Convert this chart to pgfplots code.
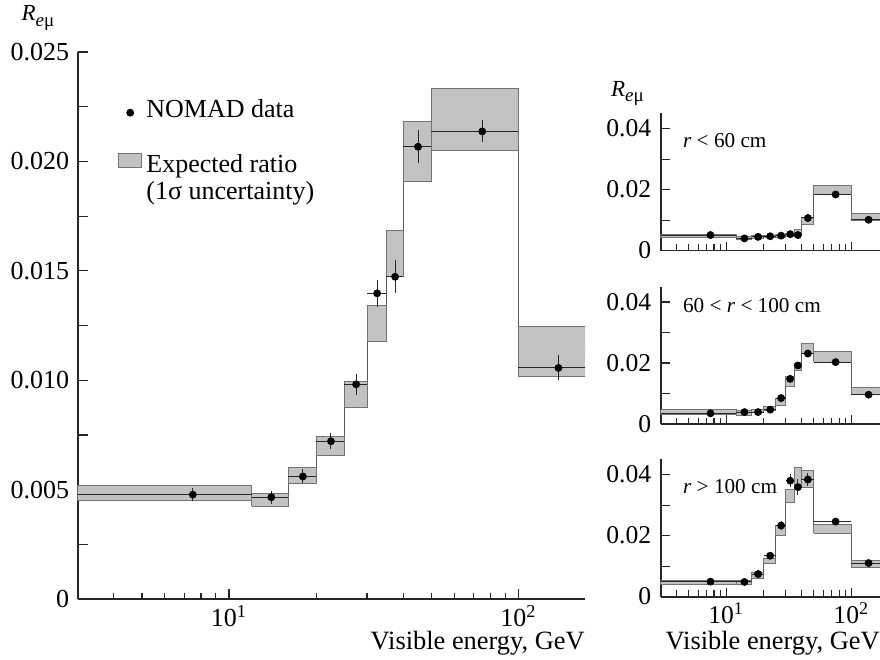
\documentclass[border=0pt]{standalone}
\usepackage{fontspec}
\setmainfont{Liberation Serif}
\usepackage{pgfplots}
\pgfplotsset{compat=1.18}

\definecolor{boxfill}{gray}{0.76}
\definecolor{boxedge}{gray}{0.45}
\definecolor{stepc}{gray}{0.35}

% one grey box of the expected ratio: xlo, xhi, ylo, yhi
\newcommand\bx[4]{\addplot[draw=boxedge, fill=boxfill, line width=0.5pt, mark=none, forget plot] coordinates {(#1,#3) (#2,#3) (#2,#4) (#1,#4) (#1,#3)};}
\newcommand\reml{{\fontsize{11.5}{13}\selectfont\textit{R}}\raisebox{-2.6pt}{\fontsize{9.5}{11}\selectfont\textit{e}μ}}

\pgfplotsset{every axis/.append style={xmode=log, xmin=3, xmax=170, scale only axis,
    axis x line=bottom, axis y line=left,
    axis line style={-, line width=0.9pt, black!85},
    tick align=inside, major tick length=5pt, minor tick length=3.2pt,
    tick style={line width=0.6pt, black!85},
    xtick={10,100}, minor xtick={4,5,6,7,8,9,20,30,40,50,60,70,80,90},
    scaled y ticks=false,
    xticklabel style={anchor=base, yshift=-13.5pt, inner sep=0pt}}}

\begin{document}
\begin{tikzpicture}
\useasboundingbox (-38.85pt,-30.5pt) rectangle (401.15pt,299.5pt);

% ---------------- main panel ----------------
\begin{axis}[at={(0pt,0pt)}, anchor=south west,
  width=253.7pt, height=273.5pt,
  ymin=0, ymax=0.025,
  ytick={0,0.0025,0.005,0.0075,0.01,0.0125,0.015,0.0175,0.02,0.0225,0.025},
  yticklabels={0,,0.005,,0.010,,0.015,,0.020,,0.025},
  xticklabels={10\textsuperscript{1},10\textsuperscript{2}},
  tick label style={font=\fontsize{13}{15}\selectfont},
  yticklabel style={xshift=-0.7pt},
  xlabel={Visible energy, GeV},
  xlabel style={at={(rel axis cs:1,0)}, anchor=base east, inner sep=0pt,
    yshift=-25.3pt, font=\fontsize{13.2}{15}\selectfont},
  ylabel={\reml},
  ylabel style={rotate=-90, at={(rel axis cs:0,1)}, anchor=base west, inner sep=0pt,
    xshift=-28.2pt, yshift=15.6pt},
  legend cell align=left,
  legend style={at={(rel axis cs:0,1)}, anchor=north west, xshift=20.15pt, yshift=-24.65pt,
    draw=none, fill=none, inner sep=0pt, font=\fontsize{13}{15}\selectfont,
    row sep=1.75pt, column sep=2.2pt,
    nodes={inner sep=0pt, text height=8pt, text depth=3pt}},
]
\addlegendimage{legend image code/.code={\path (0pt,-4.05pt) (11.3pt,1.75pt); \fill[black] (5.65pt,0pt) circle[radius=1.75pt];}}
\addlegendentry{NOMAD data}
\addlegendimage{empty legend}
\addlegendentry{}
\addlegendimage{legend image code/.code={\path (0pt,-2.2pt); \draw[draw=boxedge, fill=boxfill, line width=0.5pt] (0pt,0pt) rectangle (11.3pt,7.2pt);}}
\addlegendentry{Expected ratio}
\addlegendimage{empty legend}
\addlegendentry{\raisebox{-0.6pt}{(1σ uncertainty)}}

\addplot[stepc, line width=0.5pt, const plot, mark=none, forget plot] coordinates {
  (3,0.00485) (12,0.00454) (16,0.00566) (20,0.00700) (25,0.00936)
  (30,0.01259) (35,0.01578) (40,0.02045) (50,0.02193) (100,0.01132) (175,0.01132)};
\bx{3}{12}{0.00449}{0.00521}
\bx{12}{16}{0.00425}{0.00483}
\bx{16}{20}{0.00529}{0.00602}
\bx{20}{25}{0.00657}{0.00742}
\bx{25}{30}{0.00876}{0.00995}
\bx{30}{35}{0.01176}{0.01342}
\bx{35}{40}{0.01473}{0.01683}
\bx{40}{50}{0.01907}{0.02183}
\bx{50}{100}{0.02052}{0.02334}
\bx{100}{175}{0.01019}{0.01245}
\addplot[only marks, mark=*, mark size=1.75pt, black, forget plot,
  error bars/x dir=both, error bars/x explicit, error bars/y dir=both, error bars/y explicit,
  error bars/error mark=none, error bars/error bar style={line width=0.5pt, black!85}]
  table[x=x, y=y, x error minus=xm, x error plus=xp, y error=ey] {
x     y       xm   xp   ey
7.5   0.00477 4.5  4.5  0.00030
14    0.00465 2    2    0.00030
18    0.00560 2    2    0.00032
22.5  0.00721 2.5  2.5  0.00036
27.5  0.00981 2.5  2.5  0.00047
32.5  0.01397 2.5  2.5  0.00063
37.5  0.01473 2.5  2.5  0.00075
45    0.02067 5    5    0.00075
75    0.02137 25   25   0.00050
137.5 0.01056 37.5 37.5 0.00057
};
\end{axis}

% ---------------- r < 60 cm ----------------
\begin{axis}[at={(291.5pt,174.2pt)}, anchor=south west,
  width=109.7pt, height=68.6pt,
  ymin=0, ymax=0.045, major tick length=4.5pt,
  ytick={0,0.01,0.02,0.03,0.04}, yticklabels={0,,0.02,,0.04},
  xticklabels={,,},
  tick label style={font=\fontsize{12.8}{14}\selectfont},
  yticklabel style={xshift=-1.2pt},
  ylabel={\reml},
  ylabel style={rotate=-90, at={(rel axis cs:0,1)}, anchor=base west, inner sep=0pt,
    xshift=-25pt, yshift=8.3pt},
]
\addplot[stepc, line width=0.5pt, const plot, mark=none, forget plot] coordinates {
  (3,0.0047) (12,0.0041) (16,0.0044) (20,0.0046) (25,0.00485)
  (30,0.0051) (35,0.00585) (40,0.0097) (50,0.0198) (100,0.0111) (175,0.0111)};
\bx{3}{12}{0.0042}{0.0052}
\bx{12}{16}{0.0037}{0.0045}
\bx{16}{20}{0.0040}{0.0048}
\bx{20}{25}{0.0042}{0.0050}
\bx{25}{30}{0.0044}{0.0053}
\bx{30}{35}{0.0046}{0.0056}
\bx{35}{40}{0.0049}{0.0068}
\bx{40}{50}{0.0087}{0.0107}
\bx{50}{100}{0.0184}{0.0212}
\bx{100}{175}{0.0099}{0.0123}
\addplot[only marks, mark=*, mark size=1.75pt, black, forget plot,
  error bars/x dir=both, error bars/x explicit, error bars/y dir=both, error bars/y explicit,
  error bars/error mark=none, error bars/error bar style={line width=0.5pt, black!85}]
  table[x=x, y=y, x error minus=xm, x error plus=xp, y error=ey] {
x     y       xm   xp   ey
7.5   0.0051  4.5  4.5  0.0003
14    0.0040  2    2    0.0003
18    0.0045  2    2    0.0003
22.5  0.0047  2.5  2.5  0.0003
27.5  0.0049  2.5  2.5  0.0003
32.5  0.0054  2.5  2.5  0.0004
37.5  0.0051  2.5  2.5  0.0004
45    0.0107  5    5    0.0006
75    0.0184  25   25   0.0008
137.5 0.0101  37.5 37.5 0.0006
};
\node[anchor=base west, inner sep=0pt, font=\fontsize{10.6}{12}\selectfont] at (axis cs:4.5,0.0337) {\textit{r} < 60 cm};
\end{axis}

% ---------------- 60 < r < 100 cm ----------------
\begin{axis}[at={(291.5pt,87.5pt)}, anchor=south west,
  width=109.7pt, height=68.6pt,
  ymin=0, ymax=0.045, major tick length=4.5pt,
  ytick={0,0.01,0.02,0.03,0.04}, yticklabels={0,,0.02,,0.04},
  xticklabels={,,},
  tick label style={font=\fontsize{12.8}{14}\selectfont},
  yticklabel style={xshift=-1.2pt},
]
\addplot[stepc, line width=0.5pt, const plot, mark=none, forget plot] coordinates {
  (3,0.00385) (12,0.0036) (16,0.00425) (20,0.00495) (25,0.00735)
  (30,0.01395) (35,0.01865) (40,0.02475) (50,0.0220) (100,0.0109) (175,0.0109)};
\bx{3}{12}{0.0031}{0.0046}
\bx{12}{16}{0.0029}{0.0043}
\bx{16}{20}{0.0037}{0.0048}
\bx{20}{25}{0.0043}{0.0056}
\bx{25}{30}{0.0062}{0.0085}
\bx{30}{35}{0.0124}{0.0155}
\bx{35}{40}{0.0175}{0.0198}
\bx{40}{50}{0.0231}{0.0264}
\bx{50}{100}{0.0203}{0.0237}
\bx{100}{175}{0.0097}{0.0121}
\addplot[only marks, mark=*, mark size=1.75pt, black, forget plot,
  error bars/x dir=both, error bars/x explicit, error bars/y dir=both, error bars/y explicit,
  error bars/error mark=none, error bars/error bar style={line width=0.5pt, black!85}]
  table[x=x, y=y, x error minus=xm, x error plus=xp, y error=ey] {
x     y       xm   xp   ey
7.5   0.0035  4.5  4.5  0.0004
14    0.0039  2    2    0.0004
18    0.0039  2    2    0.0004
22.5  0.0047  2.5  2.5  0.0004
27.5  0.0085  2.5  2.5  0.0006
32.5  0.0148  2.5  2.5  0.0008
37.5  0.0192  2.5  2.5  0.0009
45    0.0231  5    5    0.0010
75    0.0203  25   25   0.0007
137.5 0.0096  37.5 37.5 0.0006
};
\node[anchor=base west, inner sep=0pt, font=\fontsize{10.6}{12}\selectfont] at (axis cs:4.5,0.0367) {60 < \textit{r} < 100 cm};
\end{axis}

% ---------------- r > 100 cm ----------------
\begin{axis}[at={(291.5pt,1.2pt)}, anchor=south west,
  width=109.7pt, height=68.6pt,
  ymin=0, ymax=0.045, major tick length=4.5pt,
  ytick={0,0.01,0.02,0.03,0.04}, yticklabels={0,,0.02,,0.04},
  xticklabels={10\textsuperscript{1},10\textsuperscript{2}},
  tick label style={font=\fontsize{12.8}{14}\selectfont},
  yticklabel style={xshift=-1.2pt},
  xlabel={Visible energy, GeV},
  xlabel style={at={(rel axis cs:1,0)}, anchor=base east, inner sep=0pt,
    yshift=-26.2pt, font=\fontsize{13.2}{15}\selectfont},
]
\addplot[stepc, line width=0.5pt, const plot, mark=none, forget plot] coordinates {
  (3,0.00465) (12,0.00475) (16,0.0070) (20,0.01175) (25,0.02155)
  (30,0.03295) (35,0.03895) (40,0.0385) (50,0.02225) (100,0.0108) (175,0.0108)};
\bx{3}{12}{0.0040}{0.0053}
\bx{12}{16}{0.0041}{0.0054}
\bx{16}{20}{0.0061}{0.0079}
\bx{20}{25}{0.0109}{0.0126}
\bx{25}{30}{0.0199}{0.0232}
\bx{30}{35}{0.0308}{0.0351}
\bx{35}{40}{0.0357}{0.0422}
\bx{40}{50}{0.0357}{0.0413}
\bx{50}{100}{0.0208}{0.0237}
\bx{100}{175}{0.0096}{0.0120}
\addplot[only marks, mark=*, mark size=1.75pt, black, forget plot,
  error bars/x dir=both, error bars/x explicit, error bars/y dir=both, error bars/y explicit,
  error bars/error mark=none, error bars/error bar style={line width=0.5pt, black!85}]
  table[x=x, y=y, x error minus=xm, x error plus=xp, y error=ey] {
x     y       xm   xp   ey
7.5   0.0049  4.5  4.5  0.0005
14    0.0048  2    2    0.0005
18    0.0074  2    2    0.0006
22.5  0.0134  2.5  2.5  0.0008
27.5  0.0233  2.5  2.5  0.0016
32.5  0.0380  2.5  2.5  0.0022
37.5  0.0359  2.5  2.5  0.0027
45    0.0384  5    5    0.0020
75    0.0246  25   25   0.0010
137.5 0.0110  37.5 37.5 0.0006
};
\node[anchor=base west, inner sep=0pt, font=\fontsize{10.6}{12}\selectfont] at (axis cs:4.5,0.0338) {\textit{r} > 100 cm};
\end{axis}
\end{tikzpicture}
\end{document}
